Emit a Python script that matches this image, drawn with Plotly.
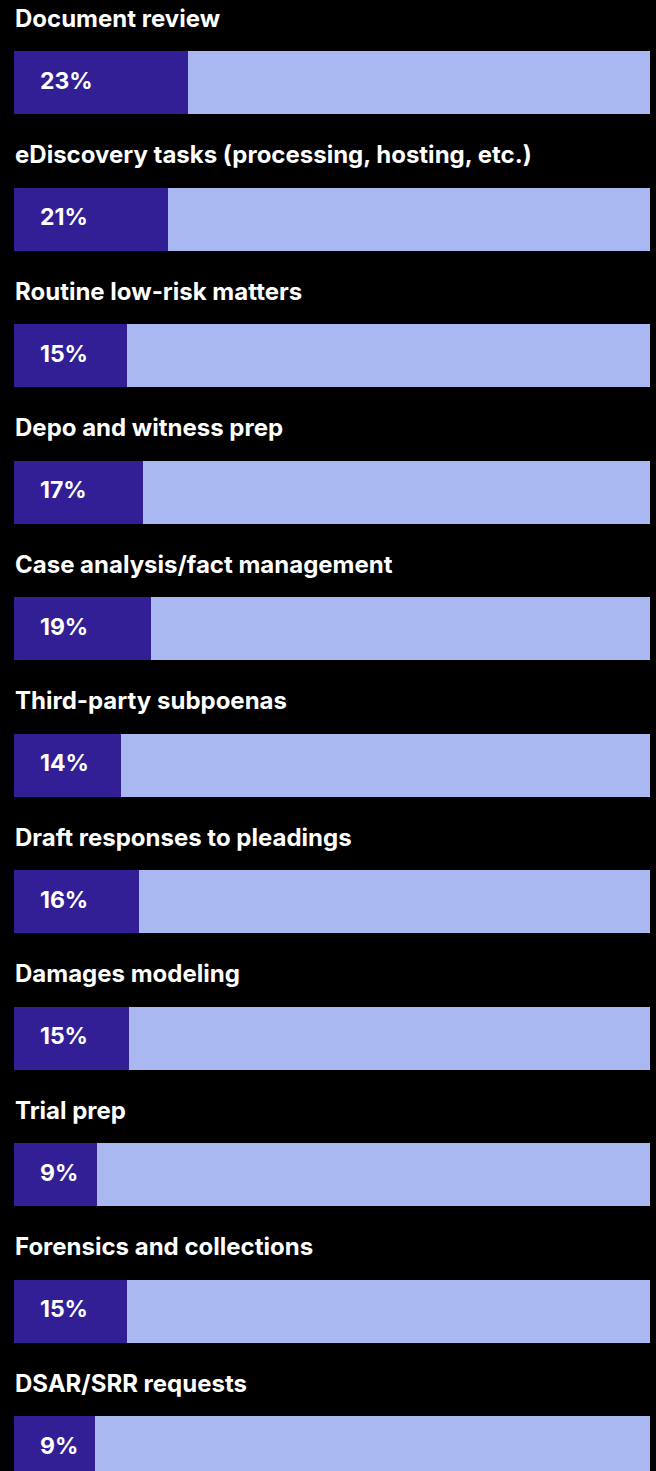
import plotly.graph_objects as go

categories = [
    "Document review",
    "eDiscovery tasks (processing, hosting, etc.)",
    "Routine low-risk matters",
    "Depo and witness prep",
    "Case analysis/fact management",
    "Third-party subpoenas",
    "Draft responses to pleadings",
    "Damages modeling",
    "Trial prep",
    "Forensics and collections",
    "DSAR/SRR requests",
]
values = [23, 21, 15, 17, 19, 14, 16, 15, 9, 15, 9]
# filled share of each track as drawn in the picture (% of full track)
fill_share = [27.4, 24.2, 17.8, 20.3, 21.5, 16.8, 19.7, 18.1, 13.1, 17.8, 12.7]
track_total = 100

DARK = "#321F95"
LIGHT = "#A9B8F1"
FONT = "Inter"

W, H = 656, 1471
row_px = 136.5
bar_px = 63
first_center_px = 82.5
left_px, right_px = 14, 650

n = len(categories)
rows = list(range(n))
rest = [track_total - f for f in fill_share]

fig = go.Figure()
fig.add_trace(go.Bar(
    y=rows, x=fill_share, base=[0] * n, orientation="h",
    marker=dict(color=DARK, line=dict(width=0)),
    width=bar_px / row_px, hoverinfo="skip",
))
fig.add_trace(go.Bar(
    y=rows, x=rest, base=fill_share, orientation="h",
    marker=dict(color=LIGHT, line=dict(width=0)),
    width=bar_px / row_px, hoverinfo="skip",
))

unit_px = (right_px - left_px) / track_total
x0 = -left_px / unit_px
x1 = track_total + (W - right_px) / unit_px

y_top = -first_center_px / row_px
y_bot = y_top + H / row_px

annotations = []
for i, (cat, v) in enumerate(zip(categories, values)):
    annotations.append(dict(
        x=13 / W, xref="paper", xanchor="left",
        y=i - (bar_px / 2 + 33) / row_px, yref="y", yanchor="middle",
        text=f"<b>{cat}</b>", showarrow=False,
        font=dict(family=FONT, size=24, color="white"),
    ))
    annotations.append(dict(
        x=38 / W, xref="paper", xanchor="left",
        y=i - 2 / row_px, yref="y", yanchor="middle",
        text=f"<b>{v}%</b>", showarrow=False,
        font=dict(family=FONT, size=23, color="white"),
    ))

fig.update_layout(
    width=W, height=H,
    margin=dict(l=0, r=0, t=0, b=0),
    paper_bgcolor="black", plot_bgcolor="black",
    barmode="overlay", bargap=0,
    showlegend=False,
    xaxis=dict(range=[x0, x1], visible=False, fixedrange=True),
    yaxis=dict(range=[y_bot, y_top], visible=False, fixedrange=True),
    annotations=annotations,
)

fig.write_html("out.html", config={"displayModeBar": False})
